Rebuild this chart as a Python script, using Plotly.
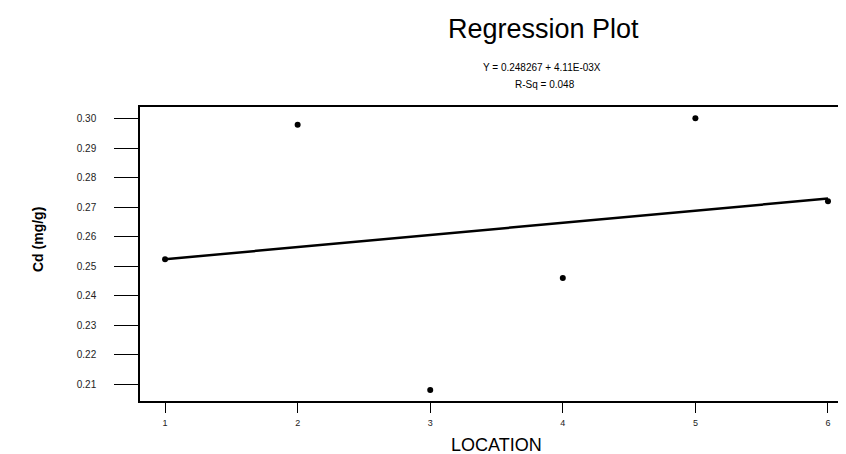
import plotly.graph_objects as go

location = [1, 2, 3, 4, 5, 6]
cd_values = [0.2524, 0.2979, 0.2081, 0.2460, 0.3001, 0.2720]
fit_x = [1, 6]
fit_y = [0.252377, 0.272927]
y_ticks = [0.21, 0.22, 0.23, 0.24, 0.25, 0.26, 0.27, 0.28, 0.29, 0.30]
x_ticks = [1, 2, 3, 4, 5, 6]

FONT = "Liberation Sans, Arial, sans-serif"

# page body has an 8px default margin, so the figure is shrunk by that offset
L, T, PW, PH = 140, 107, 706, 294

fig = go.Figure()
fig.add_trace(go.Scatter(x=fit_x, y=fit_y, mode="lines",
                         line=dict(color="black", width=2.5), hoverinfo="skip"))
fig.add_trace(go.Scatter(x=location, y=cd_values, mode="markers",
                         marker=dict(color="black", size=6)))

fig.update_layout(
    width=838, height=446,
    margin=dict(l=132, r=0, t=99, b=53),
    paper_bgcolor="white", plot_bgcolor="white",
    showlegend=False,
    font=dict(family=FONT, color="black"),
    xaxis=dict(range=[0.811, 6.136], tickvals=x_ticks, ticktext=[str(v) for v in x_ticks],
               showgrid=False, zeroline=False, showline=True, mirror=True,
               linecolor="black", linewidth=1.5, ticks="outside", ticklen=10,
               tickcolor="black", tickwidth=1, tickfont=dict(size=9, color="#222"),
               ticklabelstandoff=2),
    yaxis=dict(range=[0.20442, 0.30389], tickvals=y_ticks,
               ticktext=["%.2f" % v for v in y_ticks],
               showgrid=False, zeroline=False, showline=True, mirror=False,
               linecolor="black", linewidth=1.5, ticks="outside", ticklen=24,
               tickcolor="black", tickwidth=1, tickfont=dict(size=10, color="#222"),
               ticklabelstandoff=16),
    annotations=[
        dict(text="Regression Plot", xref="paper", yref="paper", x=(543 - L) / PW,
             y=1 + (T - 29) / PH, xanchor="center", yanchor="middle",
             showarrow=False, font=dict(size=27, color="black")),
        dict(text="Y = 0.248267 + 4.11E-03X", xref="paper", yref="paper", x=(542 - L) / PW,
             y=1 + (T - 67) / PH, xanchor="center", yanchor="middle",
             showarrow=False, font=dict(size=10, color="black")),
        dict(text="R-Sq = 0.048", xref="paper", yref="paper", x=(545 - L) / PW,
             y=1 + (T - 84) / PH, xanchor="center", yanchor="middle",
             showarrow=False, font=dict(size=10, color="black")),
        dict(text="LOCATION", xref="paper", yref="paper", x=(496 - L) / PW,
             y=-(445 - 401) / PH, xanchor="center", yanchor="middle",
             showarrow=False, font=dict(size=18, color="black")),
        dict(text="<b>Cd (mg/g)</b>", xref="paper", yref="paper", x=-(L - 38) / PW,
             y=(401 - 240) / PH, xanchor="center", yanchor="middle", textangle=-90,
             showarrow=False, font=dict(size=14, color="black")),
    ],
)

fig.write_html("out.html")
